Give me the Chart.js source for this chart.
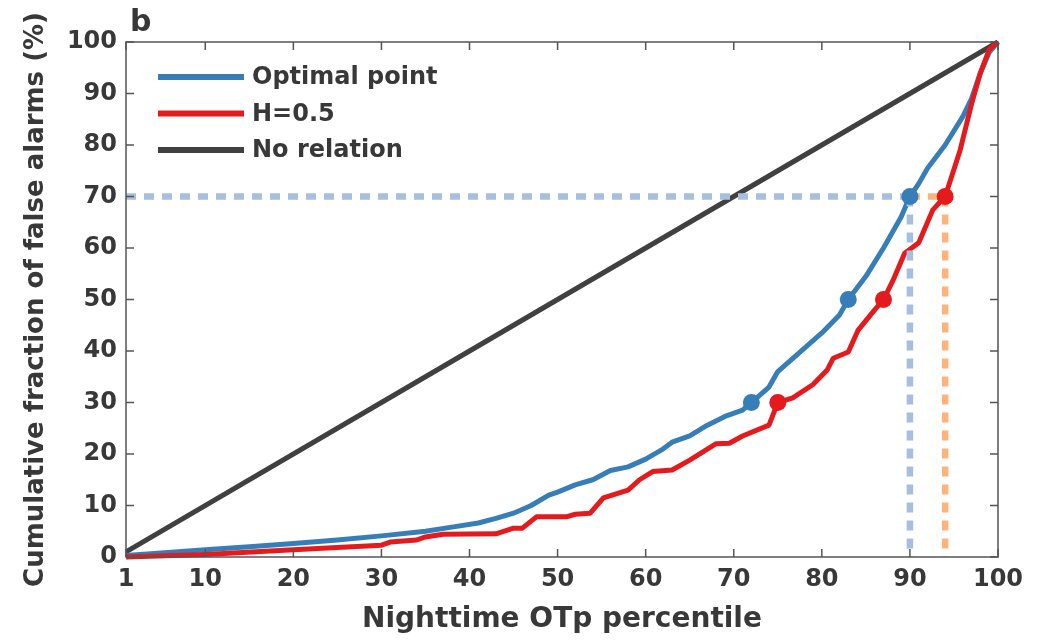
<!DOCTYPE html>
<html>
<head>
<meta charset="utf-8">
<script src="https://cdn.jsdelivr.net/npm/chart.js@4.4.1/dist/chart.umd.min.js"></script>
<style>
  html, body { margin: 0; padding: 0; background: #fff; }
  #wrap { width: 1049px; height: 642px; }
</style>
</head>
<body>
<div id="wrap"><canvas id="chart" width="1049" height="642"></canvas></div>
<script>
// values
const xTicks = [1, 10, 20, 30, 40, 50, 60, 70, 80, 90, 100];

const optimalX = [1, 5, 10, 15, 20, 25, 30, 35, 38, 41, 43, 45, 47, 49, 50, 52, 54, 56, 58, 60, 62, 63, 65, 67, 69, 71, 72, 73, 74, 75, 76, 78, 80, 82, 83, 85, 87, 89, 90, 91, 92, 94, 96, 97, 98, 99, 100];
const optimalY = [0.3, 0.8, 1.4, 2, 2.6, 3.3, 4.1, 5, 5.8, 6.6, 7.5, 8.5, 10, 12, 12.6, 14, 15, 16.8, 17.5, 19, 21, 22.3, 23.5, 25.6, 27.3, 28.5, 30, 31.5, 33, 36, 37.5, 40.5, 43.5, 47, 50, 54.5, 60, 66, 70, 72.5, 75.5, 80, 85.5, 89, 94, 98, 100];

const h05X = [1, 10, 20, 30, 31, 34, 35, 37, 43, 45, 46, 47.6, 51, 52, 53.7, 55.2, 58, 59.3, 60.8, 63, 65, 68, 69.5, 71, 74, 75, 76.7, 79, 80.6, 81.3, 83, 84.1, 86, 87, 88, 89.4, 91, 92.6, 94, 95.7, 97, 98, 99, 100];
const h05Y = [0, 0.5, 1.4, 2.3, 2.9, 3.3, 3.9, 4.4, 4.5, 5.6, 5.6, 7.8, 7.8, 8.3, 8.5, 11.5, 13, 15, 16.6, 16.9, 18.8, 22, 22.1, 23.5, 25.6, 30, 30.9, 33.5, 36.3, 38.6, 39.8, 44, 48, 50, 53.4, 59, 61, 67.4, 70, 79, 88, 94, 98.5, 100];

const noRelX = [1, 35, 100];
const noRelY = [1, 35, 100];

const optimalMarkX = [72, 83, 90];
const optimalMarkY = [30, 50, 70];
const h05MarkX = [75, 87, 94];
const h05MarkY = [30, 50, 70];

const cutBlueX = 90, cutOrangeX = 94, cutY = 70;

const legendLabels = ["Optimal point", "H=0.5", "No relation"];
const legendColors = ["#377eb8", "#e41a1c", "#404040"];

const pts = (xs, ys) => xs.map((x, i) => ({ x: x, y: ys[i] }));
const FONT = "'DejaVu Sans', sans-serif";
const TEXT = "#383838";
const FRAME = "#555";

const curve = (label, xs, ys, color) => ({
  label: label, data: pts(xs, ys), borderColor: color, backgroundColor: color,
  borderWidth: 5, pointRadius: 0, tension: 0, borderJoinStyle: "round", clip: false
});
const dotted = (data, color) => ({
  data: data, borderColor: color, borderWidth: 6.5, borderDash: [10, 8],
  borderCapStyle: "butt", pointRadius: 0, showLine: true
});
const marks = (xs, ys, color) => ({
  data: pts(xs, ys), showLine: false, pointRadius: 8.5, pointHoverRadius: 8.5,
  pointBackgroundColor: color, pointBorderColor: color, pointBorderWidth: 0
});

// inside ticks on all four sides, frame, panel letter and legend
const framePlugin = {
  id: "frame",
  afterDraw(chart) {
    const ctx = chart.ctx, a = chart.chartArea;
    const xs = chart.scales.x, ys = chart.scales.y;
    const len = 8;
    ctx.save();
    ctx.strokeStyle = FRAME;
    ctx.lineWidth = 1.5;
    ctx.beginPath();
    xTicks.forEach(v => {
      const px = xs.getPixelForValue(v);
      ctx.moveTo(px, a.bottom); ctx.lineTo(px, a.bottom - len);
      ctx.moveTo(px, a.top); ctx.lineTo(px, a.top + len);
    });
    for (let v = 0; v <= 100; v += 10) {
      const py = ys.getPixelForValue(v);
      ctx.moveTo(a.left, py); ctx.lineTo(a.left + len, py);
      ctx.moveTo(a.right, py); ctx.lineTo(a.right - len, py);
    }
    ctx.stroke();
    ctx.strokeRect(a.left, a.top, a.right - a.left, a.bottom - a.top);

    ctx.fillStyle = TEXT;
    ctx.font = "bold 30px " + FONT;
    ctx.textBaseline = "alphabetic";
    ctx.textAlign = "left";
    ctx.fillText("b", 130, 31);

    ctx.font = "bold 24px " + FONT;
    ctx.textBaseline = "middle";
    legendLabels.forEach((t, i) => {
      const y = 77 + i * 36.5;
      ctx.strokeStyle = legendColors[i];
      ctx.lineWidth = 6;
      ctx.beginPath();
      ctx.moveTo(158, y); ctx.lineTo(244, y);
      ctx.stroke();
      ctx.fillStyle = TEXT;
      ctx.fillText(t, 252, y + 1);
    });
    ctx.restore();
  }
};

new Chart(document.getElementById("chart"), {
  type: "line",
  data: {
    datasets: [
      marks(optimalMarkX, optimalMarkY, "#377eb8"),
      marks(h05MarkX, h05MarkY, "#e41a1c"),
      dotted([{ x: 1, y: cutY }, { x: cutBlueX, y: cutY }], "#a6bfdf"),
      dotted([{ x: cutBlueX, y: cutY }, { x: cutBlueX, y: 0 }], "#a6bfdf"),
      dotted([{ x: cutBlueX, y: cutY }, { x: cutOrangeX, y: cutY }], "#fdb47c"),
      dotted([{ x: cutOrangeX, y: cutY }, { x: cutOrangeX, y: 0 }], "#fdb47c"),
      curve("H=0.5", h05X, h05Y, "#e41a1c"),
      curve("Optimal point", optimalX, optimalY, "#377eb8"),
      curve("No relation", noRelX, noRelY, "#404040")
    ]
  },
  options: {
    responsive: false,
    animation: false,
    layout: { padding: { top: 42, right: 51, left: 0, bottom: 0 } },
    plugins: { legend: { display: false }, tooltip: { enabled: false } },
    scales: {
      x: {
        type: "linear", min: 1, max: 100,
        afterBuildTicks(scale) { scale.ticks = xTicks.map(v => ({ value: v })); },
        afterFit(scale) { scale.height = 85; },
        grid: { display: false, drawTicks: false },
        border: { display: false },
        ticks: { color: TEXT, padding: 8, font: { family: FONT, size: 24, weight: "bold" } },
        title: {
          display: true, text: "Nighttime OTp percentile", color: TEXT,
          padding: { top: 0, bottom: 5 }, font: { family: FONT, size: 28, weight: "bold" }
        }
      },
      y: {
        min: 0, max: 100,
        afterFit(scale) { scale.width = 126; },
        grid: { display: false, drawTicks: false },
        border: { display: false },
        ticks: { stepSize: 10, color: TEXT, padding: 9, font: { family: FONT, size: 24, weight: "bold" } },
        title: {
          display: true, text: "Cumulative fraction of false alarms (%)", color: TEXT,
          padding: { top: 21, bottom: 0 }, font: { family: FONT, size: 26, weight: "bold" }
        }
      }
    }
  },
  plugins: [framePlugin]
});
</script>
</body>
</html>
